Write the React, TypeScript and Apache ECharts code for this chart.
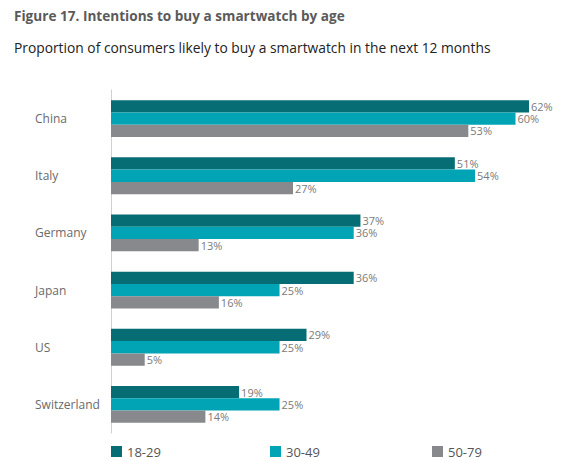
import React, { useEffect, useRef } from "react";
import * as echarts from "echarts";

const countries = ["China", "Italy", "Germany", "Japan", "US", "Switzerland"];
const age18to29 = [62, 51, 37, 36, 29, 19];
const age30to49 = [60, 54, 36, 25, 25, 25];
const age50to79 = [53, 27, 13, 16, 5, 14];
const seriesNames = ["18-29", "30-49", "50-79"];
const seriesColors = ["#076d75", "#00a4b4", "#87898d"];

const FONT = "'Open Sans', 'Noto Sans', sans-serif";

export default function App() {
  const ref = useRef<HTMLDivElement>(null);
  useEffect(() => {
    if (!ref.current) return;
    const chart = echarts.init(ref.current, undefined, { renderer: "svg" });
    const values = [age18to29, age30to49, age50to79];
    const legendLefts = [111, 270, 432];
    chart.setOption({
      animation: false,
      backgroundColor: "#ffffff",
      textStyle: { fontFamily: FONT },
      title: [
        {
          text: "Figure 17. Intentions to buy a smartwatch by age",
          left: 14,
          top: 8,
          padding: 0,
          textStyle: { fontFamily: FONT, fontSize: 13.6, fontWeight: "bold", color: "#5a5a5a" },
        },
        {
          text: "Proportion of consumers likely to buy a smartwatch in the next 12 months",
          left: 14,
          top: 40,
          padding: 0,
          textStyle: { fontFamily: FONT, fontSize: 13.8, fontWeight: "normal", color: "#222222" },
        },
      ],
      legend: seriesNames.map((n, i) => ({
        data: [n],
        left: legendLefts[i],
        top: 445,
        padding: 0,
        icon: "rect",
        itemWidth: 11,
        itemHeight: 11,
        itemGap: 4,
        textStyle: { fontFamily: FONT, fontSize: 13, color: "#555555" },
        selectedMode: false,
      })),
      grid: { left: 111, right: 37, top: 90, height: 343, containLabel: false },
      xAxis: {
        type: "value",
        min: 0,
        max: 62,
        show: false,
      },
      yAxis: {
        type: "category",
        data: countries,
        inverse: true,
        axisLine: { show: true, lineStyle: { color: "#d0d0d0", width: 1 } },
        axisTick: { show: false },
        axisLabel: {
          align: "left",
          margin: 76,
          fontFamily: FONT,
          fontSize: 12,
          color: "#6a6a6a",
        },
      },
      series: seriesNames.map((n, i) => ({
        name: n,
        type: "bar",
        data: values[i],
        barWidth: 12.3,
        barGap: "0%",
        barCategoryGap: "35%",
        itemStyle: { color: seriesColors[i] },
        label: {
          show: true,
          position: "right",
          distance: 2,
          formatter: "{c}%",
          fontFamily: FONT,
          fontSize: 11,
          color: "#7a7a7a",
        },
      })),
    });
    return () => chart.dispose();
  }, []);
  return (
    <div
      ref={ref}
      style={{ position: "absolute", left: 0, top: 0, width: 566, height: 461 }}
    />
  );
}
